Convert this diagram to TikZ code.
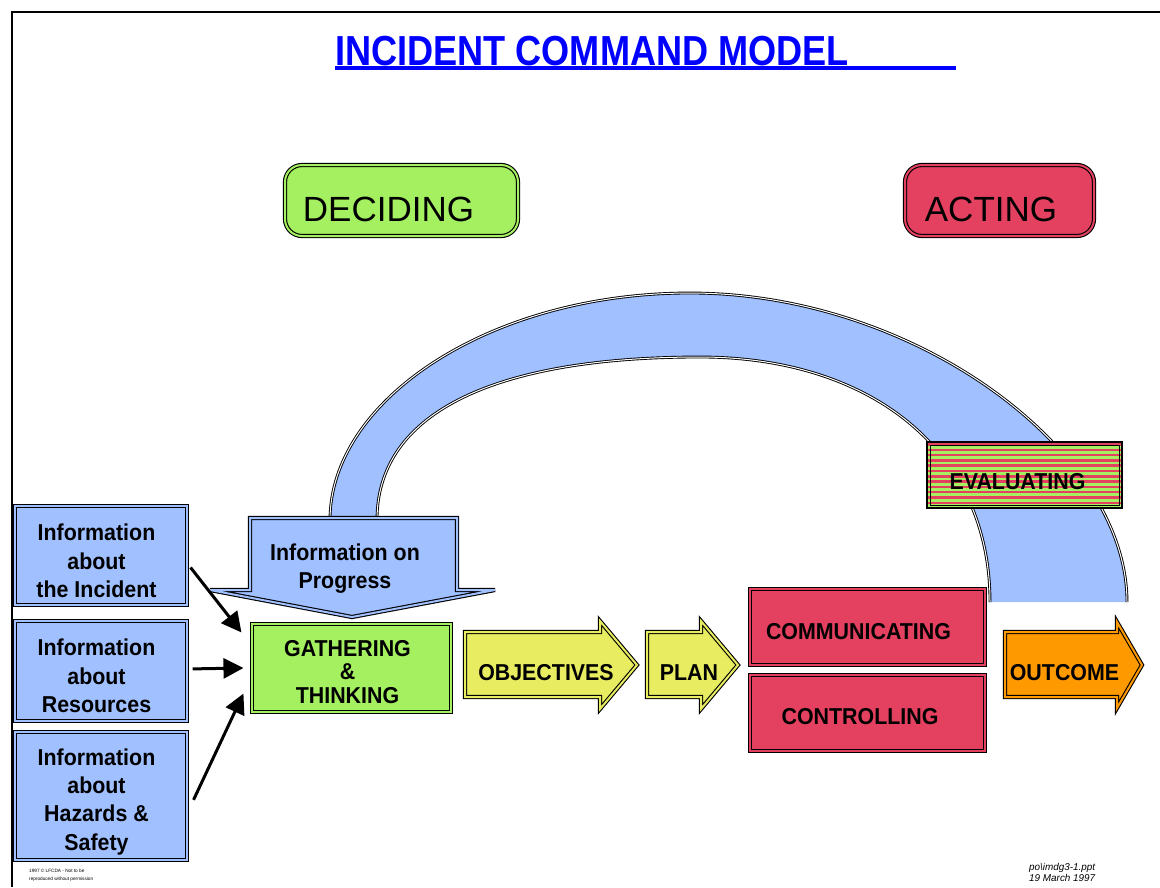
\documentclass[tikz,border=0pt]{standalone}
\usepackage{fontspec}
\setmainfont{Liberation Sans}
\newfontfamily\headfont[FakeStretch=0.86]{Liberation Sans}
\newfontfamily\boxfont[FakeStretch=0.93]{Liberation Sans}
\usetikzlibrary{arrows.meta,positioning}

\definecolor{infoblue}{RGB}{160,192,255}
\definecolor{decidegreen}{RGB}{164,240,96}
\definecolor{actred}{RGB}{228,64,96}
\definecolor{objyellow}{RGB}{232,236,96}
\definecolor{outorange}{RGB}{255,153,0}

\tikzset{
  panel/.style={draw, line width=1.1pt, double=#1, double distance=2pt, fill=#1, inner sep=0pt},
  stage/.style={panel=#1, rounded corners=17pt, minimum height=71pt},
  source/.style={panel=infoblue, minimum width=172pt},
  tag/.style={font=\boxfont\bfseries\fontsize{23}{28.3}\selectfont, align=center, inner sep=0pt},
  big/.style={font=\fontsize{35}{40}\selectfont, inner sep=0pt},
  rim/.style={draw, line width=0.9pt, double=white, double distance=1pt},
  feed/.style={line width=3pt, -{Triangle[length=20pt,width=20pt]}},
}

\begin{document}
\begin{tikzpicture}[x=1pt,y=-1pt]
  \useasboundingbox (0,0) rectangle (1160,887);
  \draw[line width=2pt] (12,887) -- (12,12) -- (1160,12);

  \node[font=\headfont\bfseries\fontsize{42}{48}\selectfont, text=blue, anchor=base west, inner sep=0pt]
    (title) at (335,65) {INCIDENT COMMAND MODEL};
  \draw[blue, line width=4pt] ([yshift=-3pt]title.base west) -- ++(621pt,0);

  \node[stage=decidegreen, minimum width=233pt, label={[big,xshift=-13pt,yshift=-9pt]center:DECIDING}]
    (deciding) at (401.5,200.5) {};
  \node[stage=actred, minimum width=189pt, label={[big,xshift=-8.5pt,yshift=-9pt]center:ACTING}]
    (acting) at (999.5,200.5) {};

  % feedback band
  \fill[infoblue] (330,520) .. controls (330,400) and (490,293) .. (690,293)
    .. controls (915,293) and (1127,450) .. (1127,602) -- (990,602)
    .. controls (990,450) and (870,357) .. (700,357)
    .. controls (500,357) and (377,410) .. (377,520) -- cycle;
  \draw[rim] (330,520) .. controls (330,400) and (490,293) .. (690,293)
    .. controls (915,293) and (1127,450) .. (1127,602);
  \draw[rim] (377,520) .. controls (377,410) and (500,357) .. (700,357)
    .. controls (870,357) and (990,450) .. (990,602);

  \node[draw, line width=1.2pt, fill=actred, minimum width=195pt, minimum height=66pt,
    path picture={
      \foreach \k in {0,...,13}
        \fill[decidegreen] ([yshift=\k*5.3pt+1.2pt]path picture bounding box.south west) rectangle ++(200pt,2.8pt);
      \draw[line width=0.9pt] ([shift={(3pt,3pt)}]path picture bounding box.south west)
        rectangle ([shift={(-3pt,-3pt)}]path picture bounding box.north east);
    },
    label={[tag,xshift=-7pt,yshift=-6.5pt]center:EVALUATING}] (evaluating) at (1024.5,475) {};

  % information sources
  \node[source, minimum height=99pt,
    label={[tag,xshift=-4.5pt,yshift=-5.5pt]center:{Information\\about\\the Incident}}]
    (incident) at (101,555.5) {};
  \node[source, minimum height=100pt, below=14.8pt of incident,
    label={[tag,xshift=-4.5pt,yshift=-5pt]center:{Information\\about\\Resources}}] (resources) {};
  \node[source, minimum height=128pt, below=9.8pt of resources,
    label={[tag,xshift=-4.5pt,yshift=-6pt]center:{Information\\about\\Hazards \&\\Safety}}] (hazards) {};

  \draw[panel=infoblue] (250,518) -- (457,518) -- (457,590) -- (495,590) -- (352,617)
    -- (210,590) -- (250,590) -- cycle;
  \node[tag] (progress) at (345,568.5) {Information on\\Progress};

  \node[panel=decidegreen, minimum width=199pt, minimum height=88pt,
    label={[tag,font=\boxfont\bfseries\fontsize{23}{23.5}\selectfont,xshift=-4pt,yshift=-4pt]center:{GATHERING\\\&\\THINKING}}]
    (gather) at (351.5,668) {};

  \draw[feed] ([xshift=3pt,yshift=-12pt]incident.east) -- ([xshift=-10pt,yshift=-9pt]gather.north west);
  \draw[feed] ([xshift=5pt,yshift=2pt]resources.east) -- ([xshift=-8pt]gather.west);
  \draw[feed] ([xshift=6pt,yshift=-4pt]hazards.east) -- ([xshift=-8pt,yshift=19pt]gather.south west);

  \draw[panel=objyellow] (465,632) -- (600,632) -- (600,621) -- (637,665) -- (600,709)
    -- (600,697) -- (465,697) -- cycle;
  \node[tag] (objectives) at (546,673) {OBJECTIVES};
  \draw[panel=objyellow] (647,632) -- (701,632) -- (701,621) -- (738,665) -- (701,709)
    -- (701,697) -- (647,697) -- cycle;
  \node[tag] (plan) at (689,673) {PLAN};

  \node[panel=actred, minimum width=235pt, minimum height=76pt,
    label={[tag,xshift=-9pt,yshift=-5pt]center:COMMUNICATING}] (communicating) at (867.5,627) {};
  \node[panel=actred, minimum width=235pt, minimum height=76pt, below=8.8pt of communicating,
    label={[tag,xshift=-7.5pt,yshift=-4pt]center:CONTROLLING}] (controlling) {};

  \draw[panel=outorange] (1005,632) -- (1117,632) -- (1117,622) -- (1142,665) -- (1117,708)
    -- (1117,697) -- (1005,697) -- cycle;
  \node[tag] (outcome) at (1064.5,673) {OUTCOME};

  \node[font=\fontsize{4.7}{8}\selectfont, align=left, anchor=north west, inner sep=0pt]
    (rights) at (29,869) {1997 © LFCDA - Not to be\\reproduced without permission};
  \node[font=\itshape\fontsize{9.9}{11}\selectfont, align=left, anchor=north west, inner sep=0pt]
    (stamp) at (1029,863) {po\textbackslash imdg3-1.ppt\\19 March 1997};
\end{tikzpicture}
\end{document}
